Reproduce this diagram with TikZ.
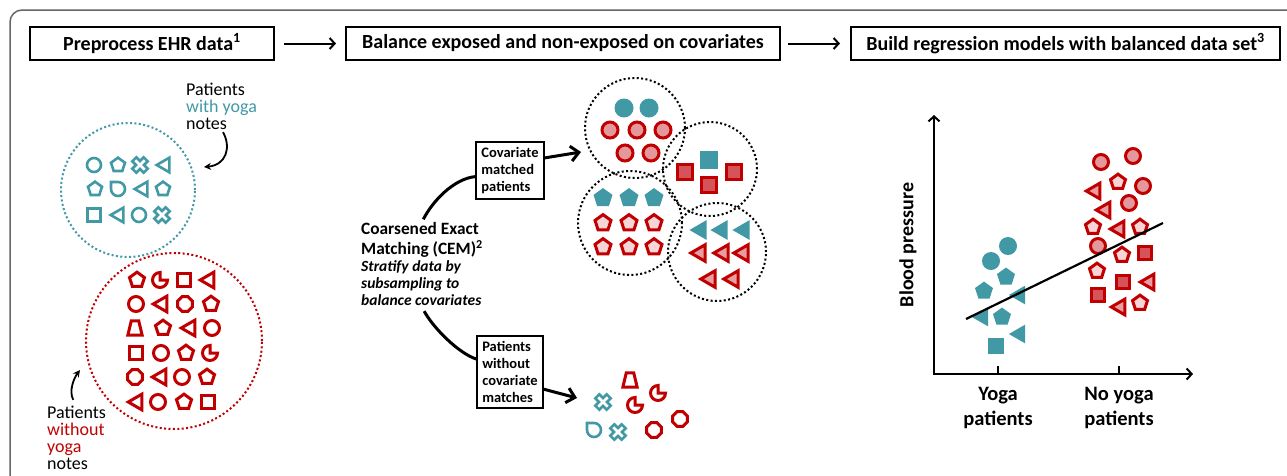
\documentclass[tikz,border=0pt]{standalone}
\usepackage{fontspec}
\setmainfont{Carlito}
\usepackage{tikz}
\usetikzlibrary{arrows.meta,positioning}
\definecolor{yogateal}{RGB}{64,153,165}
\definecolor{noyogared}{RGB}{192,0,0}
\definecolor{circpink}{RGB}{229,152,156}
\definecolor{sqpink}{RGB}{212,84,90}
\definecolor{pentpink}{RGB}{247,212,213}
\definecolor{tripink}{RGB}{231,158,161}
\tikzset{
    outerframe/.style={draw=black!60,line width=1.5pt,rounded corners=12pt},
    stepbox/.style={rectangle,draw=black,line width=2pt,minimum height=33pt,inner sep=0pt,font=\bfseries\fontsize{20}{24}\selectfont},
    notebox/.style={rectangle,draw=black,line width=2pt,align=left,inner xsep=5pt,inner ysep=5pt,font=\bfseries\fontsize{14.5}{17}\selectfont},
    handtext/.style={align=left,inner sep=0pt,font=\fontsize{18}{16.8}\selectfont},
    cemtext/.style={align=left,inner sep=0pt,font=\bfseries\fontsize{17.3}{20}\selectfont},
    cemnote/.style={align=left,inner sep=0pt,font=\bfseries\itshape\fontsize{15.5}{17}\selectfont},
    axislabel/.style={align=center,inner sep=0pt,font=\bfseries\fontsize{20.5}{25}\selectfont},
    dotring/.style={circle,draw=#1,line width=2pt,dash pattern=on 2pt off 2.4pt,inner sep=0pt},
    steparrow/.style={-{Straight Barb[length=5pt,width=11pt]},line width=2pt},
    matcharrow/.style={-{Straight Barb[length=8pt,width=15pt]},line width=3pt},
    cemlink/.style={line width=3pt},
    notearrow/.style={-{Stealth[length=7pt,width=7pt]},line width=1.8pt},
    axisarrow/.style={{Straight Barb[length=5pt,width=11pt]}-{Straight Barb[length=5pt,width=11pt]},line width=2pt},
    fitline/.style={line width=2.2pt},
    msize/.store in=\markr, msize=8,
    yogaline/.style={draw=yogateal,line width=2.6pt,msize=7},
    noyogaline/.style={draw=noyogared,line width=3pt,msize=7.5},
    yogadot/.style={fill=yogateal,msize=9.5},
    noyogadot/.style={draw=noyogared,line width=3pt,msize=8},
    pics/circ/.style={code={\path[pic actions,scale=\markr] (0,0) circle[radius=1];}},
    pics/sqr/.style={code={\path[pic actions,scale=\markr] (-.9,-.9) rectangle (.9,.9);}},
    pics/pent/.style={code={\path[pic actions,scale=\markr] (-90:1.05) -- (-18:1.05) -- (54:1.05) -- (126:1.05) -- (198:1.05) -- cycle;}},
    pics/tri/.style={code={\path[pic actions,scale=\markr] (-.9,0) -- (.9,-1.04) -- (.9,1.04) -- cycle;}},
    pics/oct/.style={code={\path[pic actions,scale=\markr] (22.5:1.05) -- (67.5:1.05) -- (112.5:1.05) -- (157.5:1.05) -- (202.5:1.05) -- (247.5:1.05) -- (292.5:1.05) -- (337.5:1.05) -- cycle;}},
    pics/trap/.style={code={\path[pic actions,scale=\markr] (-.5,-.95) -- (.5,-.95) -- (.95,.95) -- (-.95,.95) -- cycle;}},
    pics/xmark/.style={code={\path[pic actions,scale=\markr,rotate=45] (.4,1.15) -- (.4,.4) -- (1.15,.4) -- (1.15,-.4) -- (.4,-.4) -- (.4,-1.15) -- (-.4,-1.15) -- (-.4,-.4) -- (-1.15,-.4) -- (-1.15,.4) -- (-.4,.4) -- (-.4,1.15) -- cycle;}},
    pics/pacman/.style={code={\path[pic actions,scale=\markr] (0,0) -- (1,0) arc[start angle=0,end angle=270,radius=1] -- cycle;}},
    pics/drop/.style={code={\path[pic actions,scale=\markr] (-1,-1) -- (0,-1) arc[start angle=-90,end angle=180,radius=1] -- cycle;}},
}

\begin{document}
\begin{tikzpicture}[x=1pt,y=-1pt]
\useasboundingbox (0,0) rectangle (1287,475);
\begin{scope}
\clip (0,0) rectangle (1287,475);
\draw[outerframe] (10,10) rectangle (1320,520);
\end{scope}

% the three steps
\node[stepbox,minimum width=244pt] (pre) at (152,43.5) {Preprocess EHR data\textsuperscript{1}};
\node[stepbox,minimum width=434pt,right=70pt of pre] (bal) {Balance exposed and non-exposed on covariates};
\node[stepbox,minimum width=429pt,right=69pt of bal] (build) {Build regression models with balanced data set\textsuperscript{3}};
\draw[steparrow,shorten <=9pt,shorten >=9pt] (pre) -- (bal);
\draw[steparrow,shorten <=7pt,shorten >=10pt] (bal) -- (build);

% EHR patients
\node[dotring=yogateal,minimum size=134pt] (yogagrp) at (128,190) {};
\node[dotring=noyogared,minimum size=176pt] (noyogagrp) at (174,341) {};
\foreach \s/\x/\y in {circ/94/165,pent/118/165,xmark/140/165,tri/163/165,
    pent/95/189,drop/118/189,tri/141/189,pent/163/189,
    sqr/94/215,tri/117/215,circ/139/215,xmark/162/215}
  \pic[yogaline] at (\x,\y) {\s};
\foreach \s/\x/\y in {pent/137/280,pacman/160/280,sqr/184/280,tri/207/280,
    circ/136/304,tri/160/304,oct/185/304,pent/211/304,
    trap/135/328,pent/163/328,tri/188/328,circ/212/328,
    sqr/136/353,circ/161/353,pent/186/353,pacman/210/353,
    oct/135/377,tri/159/377,circ/182/377,pent/207/377,
    tri/135/402,circ/158/402,pent/184/402,sqr/208/402}
  \pic[noyogaline] at (\x,\y) {\s};

\node[handtext,anchor=north west] (yogalbl) at (186,83) {Patients\\\textcolor{yogateal}{with yoga}\\notes};
\coordinate (yogatip) at (204,167);
\draw[notearrow,shorten <=3pt] (yogalbl.south) .. controls +(10,18) and +(22,-2) .. (yogatip);
\node[handtext,anchor=north west] (noyogalbl) at (47,406) {Patients\\\textcolor{noyogared}{without}\\\textcolor{noyogared}{yoga}\\notes};
\coordinate (noyogatip) at (80,370);
\draw[notearrow,shorten <=7pt] (noyogalbl.north) .. controls +(-8,-15) and +(-6,8) .. (noyogatip);

% coarsened exact matching
\node[cemtext,anchor=north west] (cem) at (361,222) {Coarsened Exact\\Matching (CEM)\textsuperscript{2}};
\node[cemnote,anchor=north west] (cemnote) at ([yshift=-3pt]cem.south west) {Stratify data by\\subsampling to\\balance covariates};
\node[notebox] (covbox) at (510,170.5) {Covariate\\matched\\patients};
\node[notebox] (nobox) at (510,372) {Patients\\without\\covariate\\matches};
\draw[cemlink,shorten <=3pt] (cem.north) .. controls +(10,-20) and +(-22,2) .. (covbox.190);
\draw[cemlink,shorten <=6pt] (cemnote.south) .. controls +(12,22) and +(-18,-6) .. (nobox.159);
\coordinate (matchtip) at (581,152);
\coordinate (unmatchtip) at (577,398);
\draw[matcharrow] (covbox.20) -- (matchtip);
\draw[matcharrow] (nobox.-27) -- (unmatchtip);

% matched strata
\node[dotring=black,minimum size=100pt] (cell1) at (635,128) {};
\node[dotring=black,minimum size=94pt] (cell2) at (710,169) {};
\node[dotring=black,minimum size=104pt] (cell3) at (630,223) {};
\node[dotring=black,minimum size=98pt] (cell4) at (717,252) {};
\foreach \s/\x/\y in {circ/624/108,circ/649/108,sqr/709/160,
    pent/603/198,pent/629/198,pent/654/198,tri/698/230,tri/719/230,tri/741/230}
  \pic[yogadot] at (\x,\y) {\s};
\foreach \s/\x/\y/\c in {circ/610/130/circpink,circ/637/130/circpink,circ/663/130/circpink,
    circ/625/153/circpink,circ/651/153/circpink,
    sqr/685/172/sqpink,sqr/734/172/sqpink,sqr/709/185/sqpink,
    pent/603/223/pentpink,pent/629/223/pentpink,pent/654/223/pentpink,
    pent/603/247/pentpink,pent/629/247/pentpink,pent/654/247/pentpink,
    tri/698/253/tripink,tri/721/253/tripink,tri/741/253/tripink,
    tri/708/279/tripink,tri/731/279/tripink}
  \pic[noyogadot,fill=\c] at (\x,\y) {\s};

% unmatched patients
\foreach \s/\x/\y in {xmark/603/402,drop/594/430,xmark/618/432}
  \pic[yogaline] at (\x,\y) {\s};
\foreach \s/\x/\y in {trap/630/380,pacman/658/393,pacman/635/405,oct/680/419,oct/654/430}
  \pic[noyogaline] at (\x,\y) {\s};

% regression plot
\coordinate (orig) at (934,374);
\coordinate (ytop) at (934,115);
\coordinate (xend) at (1193,374);
\draw[axisarrow] (ytop) -- (orig) -- (xend);
\coordinate (tyoga) at (998,374);
\coordinate (tnoyoga) at (1119,374);
\draw[line width=2pt] (tyoga) -- ++(0,-8);
\draw[line width=2pt] (tnoyoga) -- ++(0,-8);
\node[axislabel] (yogacat) at (998,408) {Yoga\\patients};
\node[axislabel] (noyogacat) at (1119,408) {No yoga\\patients};
\node[axislabel,rotate=90,font=\bfseries\fontsize{20}{24}\selectfont] (bp) at (908,245) {Blood pressure};
\foreach \s/\x/\y in {circ/1008/246,circ/991/261,pent/1006/277,pent/984/291,tri/1017/295,
    tri/980/317,pent/1002/317,tri/1017/334,sqr/996/346}
  \pic[yogadot,msize=9] at (\x,\y) {\s};
\foreach \s/\x/\y/\c in {circ/1101/162/circpink,circ/1133/156/circpink,pent/1118/182/pentpink,
    circ/1143/186/circpink,tri/1093/191/tripink,circ/1129/203/circpink,tri/1103/210/tripink,
    pent/1093/227/pentpink,tri/1117/229/tripink,pent/1140/227/pentpink,circ/1098/246/circpink,
    pent/1122/255/pentpink,sqr/1145/253/sqpink,pent/1097/271/pentpink,sqr/1123/282/sqpink,
    tri/1147/282/tripink,sqr/1098/295/sqpink,tri/1118/307/tripink,pent/1140/303/pentpink}
  \pic[noyogadot,msize=7.5,fill=\c] at (\x,\y) {\s};
\coordinate (fitlo) at (966,319);
\coordinate (fithi) at (1163,223);
\draw[fitline] (fitlo) -- (fithi);
\end{tikzpicture}
\end{document}
